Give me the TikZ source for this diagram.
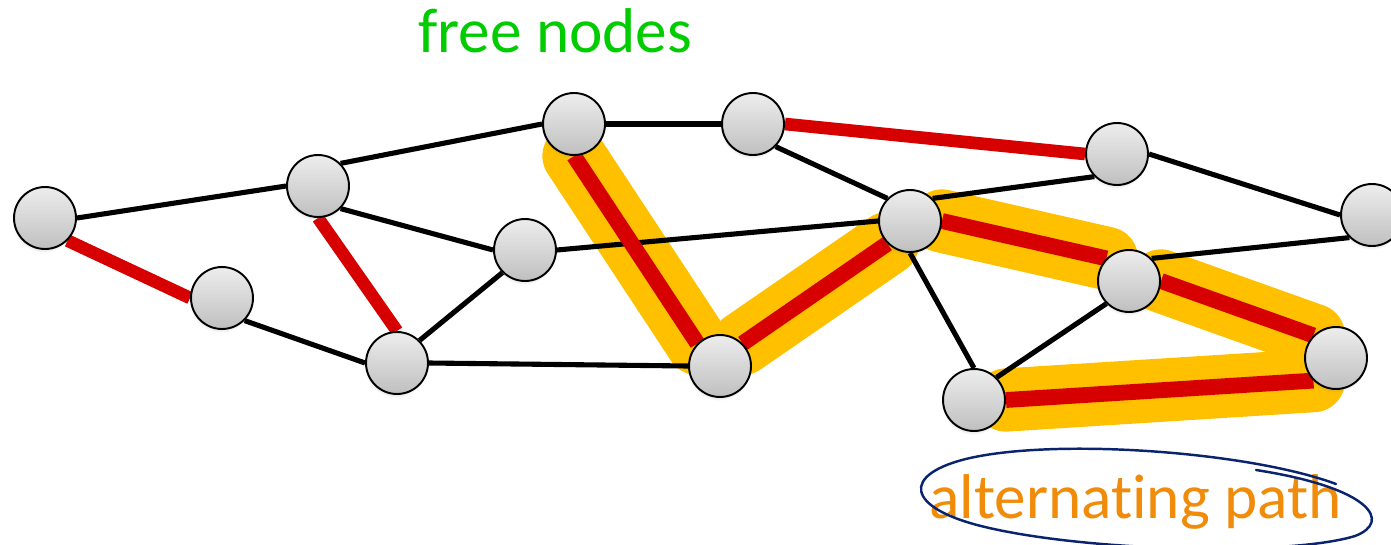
\documentclass[tikz,border=0pt]{standalone}
\usepackage{fontspec}
\setmainfont{Carlito}[Ligatures={NoCommon}, RawFeature={-liga;-clig;-calt;-dlig}]
\usetikzlibrary{shadows}
\pgfdeclarelayer{glow}
\pgfdeclarelayer{edges}
\pgfsetlayers{glow,edges,main}
\definecolor{freegreen}{RGB}{0,204,0}
\definecolor{pathorange}{RGB}{240,140,10}
\definecolor{matchred}{RGB}{214,0,0}
\definecolor{glowyellow}{RGB}{255,192,0}
\definecolor{inkblue}{RGB}{10,35,110}
\tikzset{
  vert/.style={circle, draw=black, line width=1.1pt, minimum size=1.24cm, inner sep=0pt,
    top color=black!7, bottom color=black!25,
    circular drop shadow={shadow xshift=-0.6pt, shadow yshift=-1.6pt, opacity=0.22, shadow scale=1.03}},
  plain/.style={draw=black, line width=2.9pt},
  matched/.style={draw=matchred, line width=7.2pt},
  pathmatched/.style={draw=matchred, line width=9pt},
  glowline/.style={draw=glowyellow, line width=36pt, line cap=round},
  label/.style={inner sep=0pt, anchor=base west, font=\fontsize{36}{40}\selectfont}
}
\begin{document}
\begin{tikzpicture}[x=0.02cm, y=-0.02cm]
\useasboundingbox (0,0) rectangle (1391,544);
\clip (0,0) rectangle (1391,544);

% vertices
\node[vert] (A) at (45,218) {};
\node[vert] (B) at (222,298) {};
\node[vert] (C) at (318,186) {};
\node[vert] (D) at (397,363) {};
\node[vert] (E) at (525,250) {};
\node[vert] (F) at (574,124) {};
\node[vert] (G) at (753,124) {};
\node[vert] (H) at (720,366) {};
\node[vert] (I) at (1117,154) {};
\node[vert] (J) at (910,221) {};
\node[vert] (K) at (1129,281) {};
\node[vert] (L) at (1372,215) {};
\node[vert] (M) at (1336,358) {};
\node[vert] (N) at (974,400) {};

% highlighted alternating path, one rounded band per edge
\begin{pgfonlayer}{glow}
  \foreach \u/\v in {F.south/H.north west, H.north east/J.south west, J.east/K.north west,
                     K.east/M.north west, N.east/M.south west}
    \draw[glowline] (\u) -- (\v);
\end{pgfonlayer}

% edges
\begin{pgfonlayer}{edges}
  \foreach \u/\v in {A.east/C.west, C.north east/F.west, C.south east/E.west, F.east/G.west,
                     G.south east/J.north west, E.east/J.west, J.north east/I.south west,
                     I.east/L.west, K.north east/L.south west, J.south/N.north,
                     N.north east/K.south west, D.north east/E.south west,
                     B.south east/D.west, D.east/H.west}
    \draw[plain] (\u) -- (\v);
  \foreach \u/\v in {A.south east/B.west, C.south/D.north, G.east/I.west}
    \draw[matched] (\u) -- (\v);
  \foreach \u/\v in {F.south/H.north west, H.north east/J.south west, J.east/K.north west,
                     K.east/M.north west, N.east/M.south west}
    \draw[pathmatched] (\u) -- (\v);
\end{pgfonlayer}

% labels
\node[label, text=freegreen] (free) at (418,52) {free nodes};
\node[label, text=pathorange] (alt) at (929,518) {alternat\kern0pt ing path};

% hand-drawn ring around the label
\draw[inkblue, line width=1.4pt, line cap=round]
  (1336,484) .. controls (1250,452) and (1060,438) .. (970,458)
  .. controls (900,474) and (905,508) .. (985,527)
  .. controls (1090,552) and (1290,556) .. (1355,536)
  .. controls (1392,522) and (1372,488) .. (1256,470);
\end{tikzpicture}
\end{document}
